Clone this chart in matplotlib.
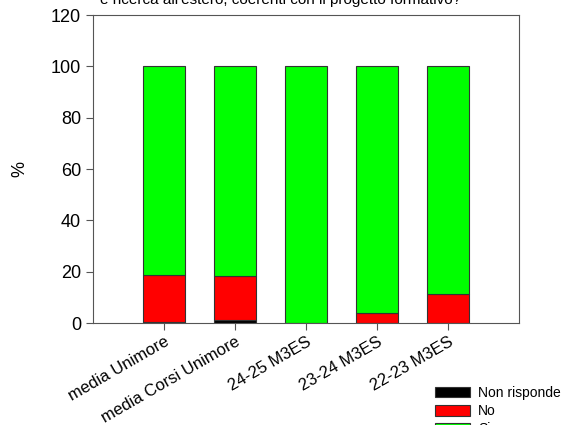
import matplotlib
matplotlib.use("Agg")
import matplotlib.pyplot as plt
import numpy as np

plt.rcParams['font.family'] = ['Liberation Sans', 'DejaVu Sans']

categories = ['media Unimore', 'media Corsi Unimore', '24-25 M3ES', '23-24 M3ES', '22-23 M3ES']
non_risponde = [0.4, 1.0, 0.0, 0.0, 0.0]
no = [18.4, 17.4, 0.0, 3.9, 11.4]
si = [81.2, 81.6, 100.0, 96.1, 88.6]

fig = plt.figure(figsize=(5.61, 4.25), dpi=100)
ax = fig.add_axes([93 / 561, 1 - 323 / 425, 426 / 561, 308 / 425])

x = np.arange(len(categories))
w = 0.6
edge = '#333333'
b1 = ax.bar(x, non_risponde, w, color='#000000', edgecolor=edge, linewidth=0.8, label='Non risponde')
bottom2 = np.array(non_risponde)
b2 = ax.bar(x, no, w, bottom=bottom2, color='#FF0000', edgecolor=edge, linewidth=0.8, label='No')
bottom3 = bottom2 + np.array(no)
b3 = ax.bar(x, si, w, bottom=bottom3, color='#00FF00', edgecolor=edge, linewidth=0.8, label='Si')

ax.set_xlim(-1, 5)
ax.set_ylim(0, 120)
ax.set_yticks(range(0, 121, 20))
ax.set_xticks(x)
ax.set_xticklabels(categories, rotation=30, ha='right', rotation_mode='anchor', fontsize=12)
ax.tick_params(axis='y', labelsize=13, direction='out', length=5, color='#555555')
ax.tick_params(axis='x', direction='out', length=5, color='#555555', pad=3)
for s in ax.spines.values():
    s.set_color('#555555')
ax.set_ylabel('%', fontsize=13, labelpad=16)

fig.text(0.5, 1.0, "e ricerca all'estero, coerenti con il progetto formativo?",
         ha='center', va='center', fontsize=11)

fig.legend(handles=[b1, b2, b3], loc='upper left', bbox_to_anchor=(428 / 561, 1 - 379 / 425),
           frameon=False, fontsize=10, handlelength=2.5, handleheight=0.8,
           labelspacing=0.3, borderpad=0, handletextpad=0.6)

fig.savefig('out.png', dpi=100)
